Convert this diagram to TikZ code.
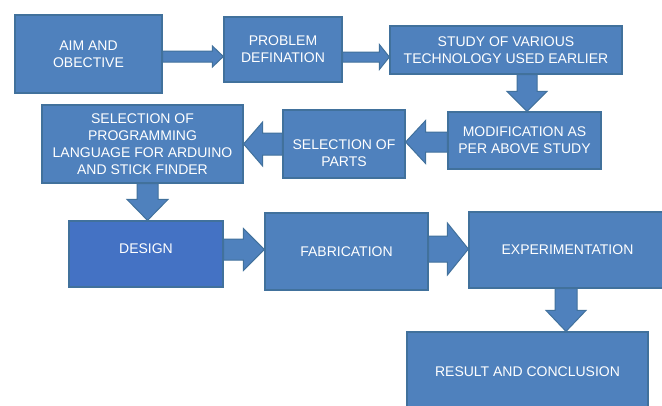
\documentclass[tikz,border=0pt]{standalone}
\usepackage{fontspec}
\setmainfont{Liberation Sans}
\usetikzlibrary{calc}
\definecolor{boxfill}{HTML}{4F81BD}
\definecolor{boxline}{HTML}{41719C}
\definecolor{designfill}{HTML}{4472C4}
\tikzset{
  boxtext/.style={text=white, align=center, inner sep=0pt, font=\fontsize{14}{17}\selectfont},
  box/.style={draw=boxline, fill=boxfill, line width=1.2pt, boxtext},
  blockarrow/.style={draw=boxline, fill=boxfill, line width=1pt, line join=miter},
}
% right-pointing block arrow: from, to, y, shaft half, head half, head length
\newcommand\rarrow[6]{\path[blockarrow] let \p1=(#1.east |- 0,#3), \p2=(#2.west |- 0,#3) in
  (\x1,\y1+#4pt) -- (\x2-#6pt,\y1+#4pt) -- (\x2-#6pt,\y1+#5pt) -- (\x2,\y1) --
  (\x2-#6pt,\y1-#5pt) -- (\x2-#6pt,\y1-#4pt) -- (\x1,\y1-#4pt) -- cycle;}
\newcommand\larrow[6]{\path[blockarrow] let \p1=(#1.west |- 0,#3), \p2=(#2.east |- 0,#3) in
  (\x1,\y1+#4pt) -- (\x2+#6pt,\y1+#4pt) -- (\x2+#6pt,\y1+#5pt) -- (\x2,\y1) --
  (\x2+#6pt,\y1-#5pt) -- (\x2+#6pt,\y1-#4pt) -- (\x1,\y1-#4pt) -- cycle;}
\newcommand\darrow[6]{\path[blockarrow] let \p1=(#1.south -| #3,0), \p2=(#2.north -| #3,0) in
  (\x1+#4pt,\y1) -- (\x1+#4pt,\y2+#6pt) -- (\x1+#5pt,\y2+#6pt) -- (\x1,\y2) --
  (\x1-#5pt,\y2+#6pt) -- (\x1-#4pt,\y2+#6pt) -- (\x1-#4pt,\y1) -- cycle;}
\begin{document}
\begin{tikzpicture}[x=1pt, y=-1pt]
  \fill[white] (0,0) rectangle (662,405);
  \useasboundingbox (0,0) rectangle (662,405);

  \node[box, minimum width=147pt, minimum height=78pt] (aim) at (88.5,54) {AIM AND\\OBECTIVE};
  \node[box, minimum width=118pt, minimum height=65pt] (prob) at (283,49.5) {PROBLEM\\DEFINATION};
  \node[box, minimum width=232pt, minimum height=48pt] (study) at (506,50) {STUDY OF VARIOUS\\TECHNOLOGY USED EARLIER};
  \node[box, minimum width=153pt, minimum height=57pt] (mod) at (524.5,140.5) {MODIFICATION AS\\PER ABOVE STUDY};
  \node[box, minimum width=122pt, minimum height=68pt,
        label={[boxtext, yshift=-9pt]center:{SELECTION OF\\PARTS}}] (parts) at (344,144) {};
  \node[box, minimum width=201pt, minimum height=78pt] (prog) at (142.5,144) {SELECTION OF\\PROGRAMMING\\LANGUAGE FOR ARDUINO\\AND STICK FINDER};
  \node[box, fill=designfill, minimum width=154pt, minimum height=66pt,
        label={[boxtext, yshift=5pt]center:{DESIGN}}] (design) at (146,254) {};
  \node[box, minimum width=163pt, minimum height=77pt] (fab) at (346.5,251.5) {FABRICATION};
  \node[box, minimum width=197pt, minimum height=76pt] (exp) at (567.5,250) {EXPERIMENTATION};
  \node[box, minimum width=241pt, minimum height=80pt] (result) at (527.5,372) {RESULT AND CONCLUSION};

  \rarrow{aim}{prob}{56.5}{5.5}{10.5}{11}
  \rarrow{prob}{study}{57}{5}{12.5}{10}
  \darrow{study}{mod}{527}{10}{20}{20}
  \larrow{mod}{parts}{142}{10}{21.5}{20}
  \larrow{parts}{prog}{144}{11}{22}{19}
  \darrow{prog}{design}{147.5}{10.5}{20.5}{21}
  \rarrow{design}{fab}{249.5}{10.5}{21}{21}
  \rarrow{fab}{exp}{249}{13}{26}{21}
  \darrow{exp}{result}{566}{11}{20}{21}
\end{tikzpicture}
\end{document}
